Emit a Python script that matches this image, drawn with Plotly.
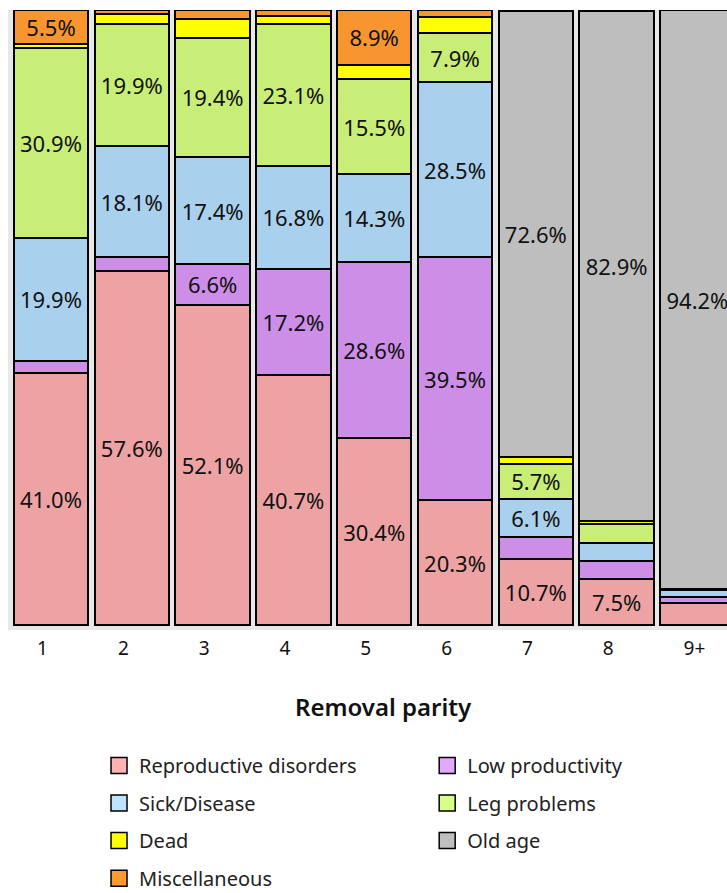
import plotly.graph_objects as go

# Removal parity categories
parity = ["1", "2", "3", "4", "5", "6", "7", "8", "9+"]

# Share of removals (%) by reason, bottom to top of each stacked bar
reproductive = [41.0, 57.6, 52.1, 40.7, 30.4, 20.3, 10.7, 7.5, 3.6]
low_productivity = [2.0, 2.2, 6.6, 17.2, 28.6, 39.5, 3.7, 2.9, 1.0]
sick_disease = [19.9, 18.1, 17.4, 16.8, 14.3, 28.5, 6.1, 3.0, 1.1]
leg_problems = [30.9, 19.9, 19.4, 23.1, 15.5, 7.9, 5.7, 3.1, 0.1]
dead = [0.7, 1.5, 3.1, 1.2, 2.3, 2.6, 1.1, 0.4, 0.0]
old_age = [0.0, 0.0, 0.0, 0.0, 0.0, 0.0, 72.6, 82.9, 94.2]
miscellaneous = [5.5, 0.7, 1.4, 1.0, 8.9, 1.2, 0.1, 0.2, 0.0]

# Which segments carry a value label
label_reproductive = [1, 1, 1, 1, 1, 1, 1, 1, 0]
label_low = [0, 0, 1, 1, 1, 1, 0, 0, 0]
label_sick = [1, 1, 1, 1, 1, 1, 1, 0, 0]
label_leg = [1, 1, 1, 1, 1, 1, 1, 0, 0]
label_dead = [0] * 9
label_old = [0, 0, 0, 0, 0, 0, 1, 1, 1]
label_misc = [1, 0, 0, 0, 1, 0, 0, 0, 0]

series = [
    ("Reproductive disorders", reproductive, label_reproductive, "#EDA3A3", "#FFB3B3", "legend"),
    ("Low productivity", low_productivity, label_low, "#CC8EE6", "#E0A8FF", "legend2"),
    ("Sick/Disease", sick_disease, label_sick, "#A9D0EC", "#BDE3FF", "legend"),
    ("Leg problems", leg_problems, label_leg, "#C8EE78", "#D6FF8A", "legend2"),
    ("Dead", dead, label_dead, "#FFFF00", "#FFFF00", "legend"),
    ("Old age", old_age, label_old, "#BEBEBE", "#BFBFBF", "legend2"),
    ("Miscellaneous", miscellaneous, label_misc, "#F7952F", "#FF9933", "legend"),
]

FONT = "Noto Sans"
xpos = list(range(len(parity)))

fig = go.Figure()
for name, vals, show, bar_col, key_col, leg in series:
    y = [v if v > 0 else None for v in vals]
    text = [f"{v:.1f}%" if s else "" for v, s in zip(vals, show)]
    fig.add_trace(go.Bar(
        x=xpos, y=y, name=name, text=text,
        textposition="inside", insidetextanchor="middle",
        textangle=0, constraintext="none",
        insidetextfont=dict(family=FONT, size=22, color="#111111"),
        marker=dict(color=bar_col, line=dict(color="#000000", width=2)),
        showlegend=False, hoverinfo="skip",
    ))

# Legend keys
for name, vals, show, bar_col, key_col, leg in series:
    fig.add_trace(go.Scatter(
        x=[None], y=[None], mode="markers", name=name, legend=leg,
        legendgroup=name, hoverinfo="skip",
        marker=dict(symbol="square", size=18, color=key_col,
                    line=dict(color="#000000", width=1.5)),
    ))

fig.update_layout(
    width=727, height=893,
    barmode="stack", bargap=0.08,
    paper_bgcolor="#FFFFFF", plot_bgcolor="#E8E8E8",
    margin=dict(l=8, r=0, t=10, b=263, autoexpand=False),
    uniformtext=dict(minsize=22, mode="show"),
    font=dict(family=FONT, color="#111111"),
    legend=dict(
        xref="container", yref="container", x=0.1362, y=0.1647,
        xanchor="left", yanchor="top", orientation="v",
        font=dict(family=FONT, size=20, color="#222222"),
        tracegroupgap=8.6, itemsizing="trace", bgcolor="rgba(0,0,0,0)",
    ),
    legend2=dict(
        xref="container", yref="container", x=0.5876, y=0.1647,
        xanchor="left", yanchor="top", orientation="v",
        font=dict(family=FONT, size=20, color="#222222"),
        tracegroupgap=8.6, itemsizing="trace", bgcolor="rgba(0,0,0,0)",
    ),
    annotations=[dict(
        text="Removal parity", xref="paper", yref="paper",
        x=(383 - 8) / 719, y=-(706 - 630) / 620,
        xanchor="center", yanchor="middle", showarrow=False,
        font=dict(family=FONT, size=24, color="#111111", weight=600),
    )],
)

fig.update_xaxes(
    range=[-0.532, 8.366],
    showline=False, showgrid=False, zeroline=False,
    ticks="", ticklabelstandoff=5, ticklabelshift=-3,
    tickmode="array", tickvals=xpos,
    ticktext=[p + "\u2007" if len(p) == 1 else p for p in parity],
    tickfont=dict(family=FONT, size=19, color="#111111"),
)
fig.update_yaxes(
    range=[-0.8, 100], showticklabels=False, showgrid=False,
    zeroline=False, showline=False, ticks="",
)

fig.write_html("out.html")
